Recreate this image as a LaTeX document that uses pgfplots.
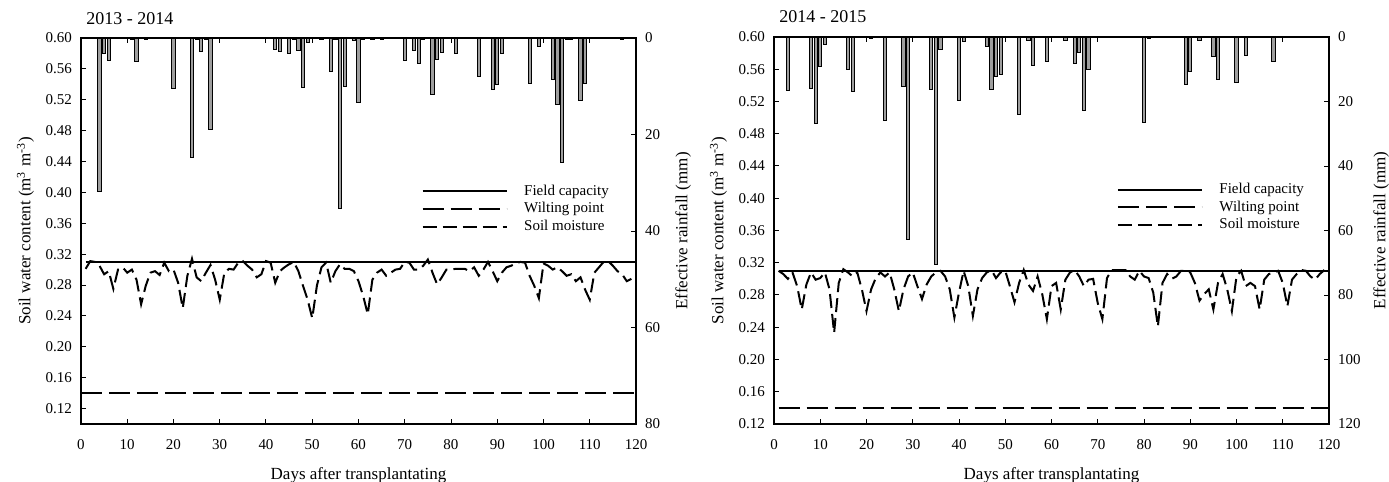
\documentclass[border=0pt]{standalone}
\usepackage{fontspec}
\setmainfont{Liberation Serif}
\usepackage{pgfplots}
\pgfplotsset{compat=1.18}

\definecolor{barGray}{gray}{0.62}

\pgfplotsset{
  panel/.style={
    scale only axis, width=277.5pt,
    xmin=0, xmax=120,
    tick align=inside, major tick length=2.5pt,
    axis line style={line width=0.6pt},
    every tick/.style={black, line width=0.5pt},
    tick label style={font=\fontsize{7.5}{9}\selectfont},
    /pgf/number format/assume math mode=true,
    label style={font=\fontsize{8.5}{10}\selectfont},
  },
  soil/.style={
    panel, xtick={0,10,...,120}, xtick pos=both, ytick pos=left,
    ytick={0.12,0.16,...,0.61}, ymax=0.60,
    yticklabel style={xshift=-1pt, /pgf/number format/.cd, fixed, fixed zerofill, precision=2},
    xticklabel style={yshift=-4pt},
    xlabel={Days after transplantating},
    xlabel style={at={(axis description cs:0.5,-0.132)}, anchor=center},
    ylabel={Soil water content (m\textsuperscript{3} m\textsuperscript{-3})},
    ylabel style={at={(axis description cs:-0.1,0.5)}, anchor=center},
    title style={at={(axis description cs:0,1)}, anchor=base west, xshift=2.5pt, yshift=1pt,
      inner sep=0pt, font=\fontsize{9}{10}\selectfont},
    legend style={draw=none, fill=none, anchor=north west, inner sep=0pt,
      font=\fontsize{7.5}{9}\selectfont, row sep=0.6pt,
      nodes={inner sep=0.8pt}},
    legend cell align=left,
    legend image code/.code={\draw[##1] (0pt,0pt) -- (42pt,0pt); \path[draw=none] (0pt,0pt) -- (50pt,0pt);},
  },
  rain/.style={
    panel, axis x line=none, axis y line*=right, y dir=reverse, ymin=0,
    ybar, bar width=0.7,
    yticklabel style={xshift=1pt},
    ylabel={Effective rainfall (mm)},
    ylabel style={anchor=center},
  },
  fc/.style={black, line width=1pt},
  wp/.style={black, line width=1pt, dash pattern=on 10.5pt off 3.5pt},
  sm/.style={black, line width=1pt, dash pattern=on 7pt off 3pt},
  rainbar/.style={draw=black, line width=0.45pt, fill=barGray},
}

\begin{document}
\begin{tikzpicture}
\useasboundingbox (-40.5pt,-29pt) rectangle (654pt,212pt);

% ---------- 2013 - 2014 ----------
\begin{axis}[soil, height=193pt, ymin=0.10, title={2013 - 2014},
  legend style={at={(0.613,0.625)}}]
\addplot[fc] coordinates {(1,0.31)(120,0.31)};
\addlegendentry{Field capacity}
\addplot[wp] coordinates {(0,0.14)(120,0.14)};
\addlegendentry{Wilting point}
\addplot[sm] table {
1 0.301
2 0.311
3 0.310
4 0.305
5 0.294
6 0.298
7 0.275
8 0.300
9 0.303
10 0.296
11 0.300
12 0.287
13 0.255
14 0.279
15 0.296
16 0.298
17 0.293
18 0.309
19 0.298
20 0.300
21 0.283
22 0.250
23 0.292
24 0.314
25 0.290
26 0.285
27 0.296
28 0.306
29 0.287
30 0.261
31 0.296
32 0.301
33 0.300
34 0.309
35 0.311
36 0.305
37 0.300
38 0.290
39 0.294
40 0.311
41 0.309
42 0.283
43 0.298
44 0.303
45 0.307
46 0.310
47 0.298
48 0.279
49 0.261
50 0.237
51 0.279
52 0.303
53 0.309
54 0.283
55 0.298
56 0.307
57 0.301
58 0.301
59 0.298
60 0.285
61 0.266
62 0.242
63 0.287
64 0.296
65 0.300
66 0.292
67 0.296
68 0.300
69 0.301
70 0.310
71 0.309
72 0.300
73 0.300
74 0.305
75 0.313
76 0.296
77 0.281
78 0.290
79 0.300
80 0.300
81 0.301
82 0.301
83 0.301
84 0.298
85 0.303
86 0.292
87 0.300
88 0.310
89 0.298
90 0.285
91 0.296
92 0.303
93 0.305
94 0.308
95 0.310
96 0.309
97 0.292
98 0.279
99 0.263
100 0.308
101 0.305
102 0.300
103 0.303
104 0.298
105 0.292
106 0.294
107 0.285
108 0.290
109 0.274
110 0.261
111 0.296
112 0.303
113 0.310
114 0.311
115 0.305
116 0.298
117 0.294
118 0.285
119 0.288
};
\addlegendentry{Soil moisture}
\end{axis}

\begin{axis}[rain, height=193pt, ymax=80, ytick={0,20,...,80},
  ylabel style={at={(axis description cs:1.085,0.5)}}]
\addplot[rainbar] coordinates {
(4,31.8)(5,3.2)(6,4.7)(11,0.3)(12,4.9)(14,0.3)(20,10.4)(24,24.7)(25,0.4)
(26,2.8)(27,0.3)(28,19.0)(42,2.4)(43,2.8)(45,3.2)(46,0.3)(47,2.6)(48,10.2)
(49,0.9)(52,0.3)(54,7.0)(55,0.4)(56,35.3)(57,10.0)(59,0.6)(60,13.3)(61,0.3)
(63,0.3)(65,0.3)(70,4.6)(72,2.5)(73,5.2)(74,0.3)(76,11.8)(77,4.4)(78,3.0)
(81,3.1)(86,7.9)(89,10.6)(90,9.7)(91,3.2)(97,9.5)(99,1.7)(102,8.5)(103,13.8)
(104,25.8)(105,0.3)(106,0.3)(108,12.9)(109,9.5)(117,0.3)
};
\end{axis}

% ---------- 2014 - 2015 ----------
\begin{axis}[soil, at={(346.5pt,0pt)}, height=193.5pt, ymin=0.12, title={2014 - 2015},
  legend style={at={(0.617,0.628)}}]
\addplot[fc] coordinates {(1,0.31)(120,0.31)};
\addlegendentry{Field capacity}
\addplot[wp] coordinates {(1,0.14)(120,0.14)};
\addlegendentry{Wilting point}
\addplot[sm] table {
1 0.310
2 0.306
3 0.300
4 0.308
5 0.291
6 0.262
7 0.293
8 0.308
9 0.299
10 0.301
11 0.308
12 0.287
13 0.233
14 0.295
15 0.312
16 0.308
17 0.303
18 0.308
19 0.287
20 0.260
21 0.287
22 0.301
23 0.308
24 0.303
25 0.308
26 0.287
27 0.260
28 0.287
29 0.303
30 0.308
31 0.291
32 0.275
33 0.293
34 0.303
35 0.308
36 0.310
37 0.303
38 0.287
39 0.252
40 0.283
41 0.310
42 0.291
43 0.254
44 0.287
45 0.301
46 0.308
47 0.311
48 0.301
49 0.308
50 0.310
51 0.291
52 0.271
53 0.295
54 0.311
55 0.293
56 0.285
57 0.303
58 0.281
59 0.250
60 0.291
61 0.295
62 0.262
63 0.299
64 0.308
65 0.311
66 0.303
67 0.291
68 0.299
69 0.300
70 0.270
71 0.250
72 0.301
73 0.311
74 0.311
75 0.311
76 0.311
77 0.303
78 0.299
79 0.310
80 0.303
81 0.301
82 0.283
83 0.241
84 0.295
85 0.306
86 0.300
87 0.303
88 0.310
89 0.310
90 0.308
91 0.295
92 0.273
93 0.281
94 0.287
95 0.262
96 0.295
97 0.306
98 0.287
99 0.260
100 0.303
101 0.310
102 0.291
103 0.295
104 0.291
105 0.262
106 0.299
107 0.306
108 0.308
109 0.310
110 0.295
111 0.266
112 0.299
113 0.306
114 0.311
115 0.310
116 0.303
117 0.299
118 0.306
119 0.311
};
\addlegendentry{Soil moisture}
\end{axis}

\begin{axis}[rain, at={(346.5pt,0pt)}, height=193.5pt, ymax=120, ytick={0,20,...,120},
  ylabel style={at={(axis description cs:1.094,0.5)}}]
\addplot[rainbar] coordinates {
(3,16.6)(8,16.1)(9,26.9)(10,9.1)(11,2.2)(16,10.1)(17,17.0)(21,0.3)(24,26.0)
(28,15.4)(29,62.9)(34,16.4)(35,70.4)(36,3.9)(40,19.7)(41,1.5)(46,2.9)(47,16.4)
(48,12.3)(49,11.7)(53,24.1)(55,1.1)(56,8.7)(59,7.7)(63,1.1)(65,8.1)(66,4.8)
(67,22.8)(68,10.1)(80,26.5)(81,0.5)(89,14.6)(90,10.8)(92,1.2)(95,6.1)(96,13.3)
(100,14.1)(102,5.8)(108,7.5)
};
\end{axis}
\end{tikzpicture}
\end{document}
